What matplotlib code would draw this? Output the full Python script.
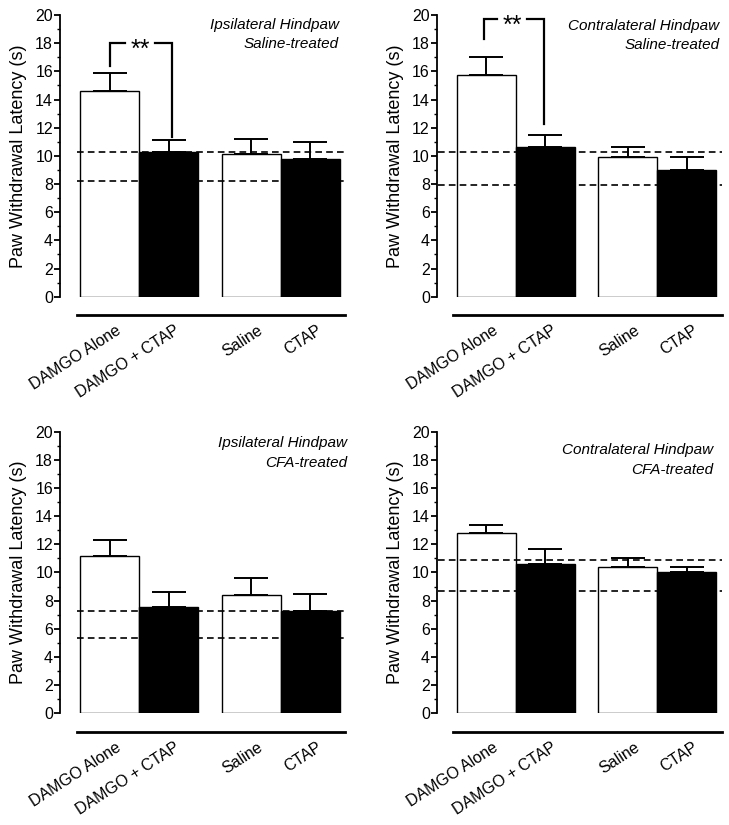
import matplotlib
matplotlib.use('Agg')
import matplotlib.pyplot as plt
from matplotlib.ticker import MultipleLocator

plt.rcParams['font.family'] = ['Liberation Sans', 'DejaVu Sans']

groups = ['DAMGO Alone', 'DAMGO + CTAP', 'Saline', 'CTAP']

# mean latency and upper SEM for each panel (TL, TR, BL, BR)
means_tl = [14.6, 10.25, 10.1, 9.8]
sem_tl = [1.3, 0.85, 1.1, 1.2]
means_tr = [15.75, 10.6, 9.95, 9.0]
sem_tr = [1.3, 0.9, 0.65, 0.9]
means_bl = [11.2, 7.55, 8.4, 7.25]
sem_bl = [1.1, 1.05, 1.2, 1.2]
means_br = [12.8, 10.6, 10.4, 10.0]
sem_br = [0.6, 1.1, 0.6, 0.4]

# dashed reference lines (baseline latencies)
ref_tl = [10.25, 8.2]
ref_tr = [10.25, 7.95]
ref_bl = [7.25, 5.35]
ref_br = [10.9, 8.7]

titles = [('Ipsilateral Hindpaw', 'Saline-treated'),
          ('Contralateral Hindpaw', 'Saline-treated'),
          ('Ipsilateral Hindpaw', 'CFA-treated'),
          ('Contralateral Hindpaw', 'CFA-treated')]

# significance brackets: (left bottom, top, right bottom)
sig_tl = (16.4, 18.0, 11.35)
sig_tr = (18.27, 19.7, 12.26)

xpos = [0, 1, 2.4, 3.4]
colors = ['white', 'black', 'white', 'black']

fig = plt.figure(figsize=(7.29, 8.25), dpi=100)

W = 285 / 729
H = 281.7 / 825
panels = [
    dict(rect=[60 / 729, (825 - 296.7) / 825, W, H], means=means_tl, sem=sem_tl,
         ref=ref_tl, dash0=-0.55, title=titles[0], tx=3.89, ty=(19.3, 17.94),
         sig=sig_tl, sx=(0.01, 1.05), stext=0.52),
    dict(rect=[436.7 / 729, (825 - 296.7) / 825, W, H], means=means_tr, sem=sem_tr,
         ref=ref_tr, dash0=-0.82, title=titles[1], tx=3.95, ty=(19.2, 17.9),
         sig=sig_tr, sx=(-0.03, 0.98), stext=0.44),
    dict(rect=[60 / 729, (825 - 713.3) / 825, W, H], means=means_bl, sem=sem_bl,
         ref=ref_bl, dash0=-0.55, title=titles[2], tx=4.03, ty=(19.17, 17.75),
         sig=None),
    dict(rect=[436.7 / 729, (825 - 713.3) / 825, W, H], means=means_br, sem=sem_br,
         ref=ref_br, dash0=-0.82, title=titles[3], tx=3.85, ty=(18.7, 17.3),
         sig=None),
]

for p in panels:
    ax = fig.add_axes(p['rect'])
    ax.set_xlim(-0.84, 3.99)
    ax.set_ylim(0, 20)

    ax.bar(xpos, p['means'], width=1.0, color=colors, edgecolor='black',
           linewidth=1.0, zorder=2)
    ax.errorbar(xpos, p['means'], yerr=[[0] * 4, p['sem']], fmt='none',
                ecolor='black', elinewidth=1.4, capsize=12, capthick=1.4, zorder=1)

    for r in p['ref']:
        ax.plot([p['dash0'], 3.99], [r, r], color='black', lw=1.2,
                dashes=(4, 2.5), zorder=3, clip_on=False)

    # solid line under the groups
    ax.plot([-0.56, 3.99], [-1.3, -1.3], color='black', lw=2, clip_on=False)

    for x, g in zip(xpos, groups):
        ax.text(x + 0.1, -1.85, g, rotation=33, ha='right', va='top',
                rotation_mode='anchor', fontsize=11.5)

    ax.text(p['tx'], p['ty'][0], p['title'][0], ha='right', va='center',
            style='italic', fontsize=11)
    ax.text(p['tx'], p['ty'][1], p['title'][1], ha='right', va='center',
            style='italic', fontsize=11)

    if p['sig'] is not None:
        yl, yt, yr = p['sig']
        x0, x1 = p['sx']
        xt = p['stext']
        gap = 0.25
        ax.plot([x0, x0, xt - gap], [yl, yt, yt], color='black', lw=1.6,
                clip_on=False, solid_joinstyle='miter')
        ax.plot([xt + gap, x1, x1], [yt, yt, yr], color='black', lw=1.6,
                clip_on=False, solid_joinstyle='miter')
        ax.text(xt, yt - 0.45, '**', ha='center', va='center', fontsize=18)

    for s in ['top', 'right', 'bottom']:
        ax.spines[s].set_visible(False)
    ax.spines['left'].set_linewidth(1.3)
    ax.spines['left'].set_bounds(0, 20)
    ax.set_xticks([])
    ax.yaxis.set_major_locator(MultipleLocator(2))
    ax.yaxis.set_minor_locator(MultipleLocator(1))
    ax.tick_params(axis='y', which='major', length=4, width=1.3, pad=1,
                   labelsize=11.5)
    ax.tick_params(axis='y', which='minor', length=2.5, width=1.0)
    ax.set_ylabel('Paw Withdrawal Latency (s)', fontsize=13)
    ax.yaxis.set_label_coords(-0.116, 0.5)

fig.savefig('out.png', dpi=100)
